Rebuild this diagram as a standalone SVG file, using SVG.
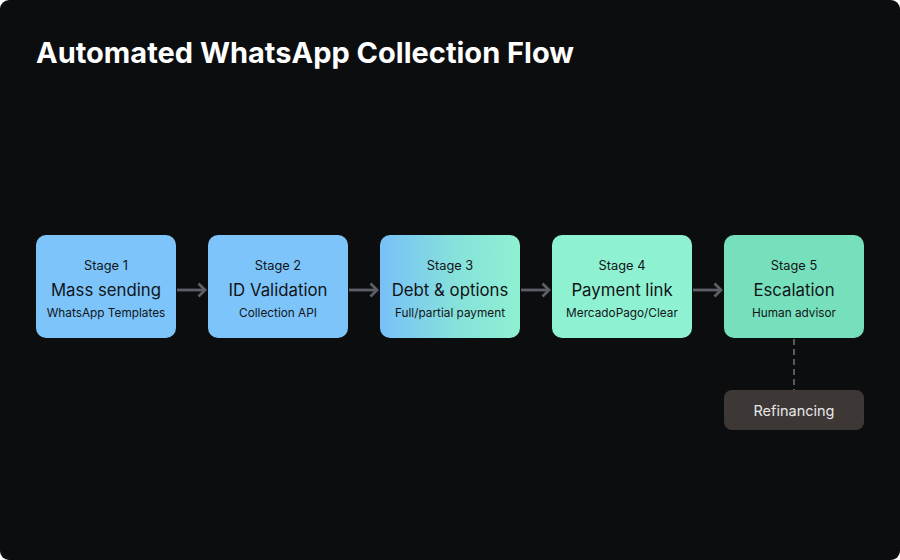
<svg xmlns="http://www.w3.org/2000/svg" width="900" height="560" viewBox="0 0 900 560">
<defs>
<linearGradient id="g3" x1="0" y1="0" x2="1" y2="0">
<stop offset="0" stop-color="#78c0f8"/>
<stop offset="0.55" stop-color="#86e2da"/>
<stop offset="1" stop-color="#8ef0d2"/>
</linearGradient>
<marker id="chev" markerWidth="10" markerHeight="16" refX="8" refY="8" orient="auto" markerUnits="userSpaceOnUse">
<path d="M1.5,1.5 L8,8 L1.5,14.5" fill="none" stroke="#5b6068" stroke-width="2.8"/>
</marker>
<style>
.t{font-family:Inter,"Noto Sans","Liberation Sans",sans-serif;text-anchor:middle;fill:#121418}
.s{font-size:12.8px}
.h{font-size:16.8px;font-weight:400}
.d{font-size:11.8px}
.c{stroke:#5b6068;stroke-width:2.8;fill:none}
</style>
</defs>
<rect x="0" y="0" width="900" height="560" fill="#ffffff"/>
<rect x="0" y="0" width="900" height="560" rx="9" fill="#0c0d0f"/>
<text x="36" y="63" font-family="Inter,'Noto Sans','Liberation Sans',sans-serif" font-size="29" font-weight="700" fill="#ffffff">Automated WhatsApp Collection Flow</text>
<g id="connectors">
<line class="c" x1="177" y1="290" x2="205" y2="290" marker-end="url(#chev)"/>
<line class="c" x1="349" y1="290" x2="377" y2="290" marker-end="url(#chev)"/>
<line class="c" x1="521" y1="290" x2="549" y2="290" marker-end="url(#chev)"/>
<line class="c" x1="693" y1="290" x2="721" y2="290" marker-end="url(#chev)"/>
<line x1="794" y1="339" x2="794" y2="390" stroke="#5a5a5a" stroke-width="2" stroke-dasharray="6 4"/>
</g>
<g id="stage1">
<rect x="36" y="235" width="140" height="103" rx="10" fill="#7cc4fa"/>
<text class="t s" x="106" y="270">Stage 1</text>
<text class="t h" x="106" y="296">Mass sending</text>
<text class="t d" x="106" y="317">WhatsApp Templates</text>
</g>
<g id="stage2">
<rect x="208" y="235" width="140" height="103" rx="10" fill="#7cc4fa"/>
<text class="t s" x="278" y="270">Stage 2</text>
<text class="t h" x="278" y="296">ID Validation</text>
<text class="t d" x="278" y="317">Collection API</text>
</g>
<g id="stage3">
<rect x="380" y="235" width="140" height="103" rx="10" fill="url(#g3)"/>
<text class="t s" x="450" y="270">Stage 3</text>
<text class="t h" x="450" y="296">Debt &amp; options</text>
<text class="t d" x="450" y="317">Full/partial payment</text>
</g>
<g id="stage4">
<rect x="552" y="235" width="140" height="103" rx="10" fill="#8ef2d2"/>
<text class="t s" x="622" y="270">Stage 4</text>
<text class="t h" x="622" y="296">Payment link</text>
<text class="t d" x="622" y="317">MercadoPago/Clear</text>
</g>
<g id="stage5">
<rect x="724" y="235" width="140" height="103" rx="10" fill="#76e0bd"/>
<text class="t s" x="794" y="270">Stage 5</text>
<text class="t h" x="794" y="296">Escalation</text>
<text class="t d" x="794" y="317">Human advisor</text>
</g>
<g id="refinancing">
<rect x="724" y="390" width="140" height="40" rx="8" fill="#3d3836"/>
<text x="794" y="416" font-family="Inter,'Noto Sans','Liberation Sans',sans-serif" font-size="14.5" text-anchor="middle" fill="#e6e6e6">Refinancing</text>
</g>
</svg>
